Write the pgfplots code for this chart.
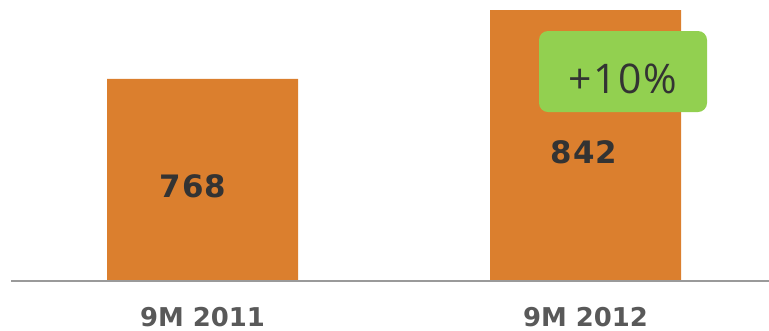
\documentclass[border=0pt]{standalone}
\usepackage{pgfplots}
\pgfplotsset{compat=1.18}
\usepackage{fontspec}
\setmainfont{DejaVu Sans}
\newfontfamily\opensans[LetterSpace=4]{Open Sans}
\newfontfamily\valfont[LetterSpace=3]{DejaVu Sans}
\definecolor{barorange}{HTML}{DB7F2E}
\definecolor{boxgreen}{HTML}{92D050}
\definecolor{darktext}{HTML}{333333}
\definecolor{labelgray}{HTML}{595959}
\definecolor{basegray}{HTML}{9A9A9A}
\begin{document}
\begin{tikzpicture}
\begin{axis}[
  scale only axis,
  width=769bp, height=281bp,
  xmin=0, xmax=769,
  ymin=551, ymax=852.8,
  axis line style={draw=none},
  ytick=\empty,
  xtick={202.5,585.5},
  xticklabels={9M 2011,9M 2012},
  major tick length=0pt,
  xticklabel style={anchor=base, yshift=-45bp, font=\bfseries\fontsize{26}{26}\selectfont, text=labelgray},
  clip=false,
]
\addplot[ybar, fill=barorange, draw=none, bar width=191] coordinates {(202.5,768) (585.5,842)};
\draw[basegray, line width=2bp] (axis cs:11,551) -- (axis cs:769,551);
\node[text=darktext, font=\valfont\bfseries\fontsize{31}{31}\selectfont] at (axis cs:193,653) {768};
\node[text=darktext, font=\valfont\bfseries\fontsize{31}{31}\selectfont] at (axis cs:584,689.5) {842};
\fill[boxgreen, rounded corners=9bp] (axis cs:539,732.5) rectangle (axis cs:707,819.5);
\node[text=darktext, font=\opensans\fontsize{41}{41}\selectfont] at (axis cs:623,768) {+10\%};
\end{axis}
\pgfresetboundingbox
\path[use as bounding box] (0,-50bp) rectangle (769bp,281bp);
\end{tikzpicture}
\end{document}
